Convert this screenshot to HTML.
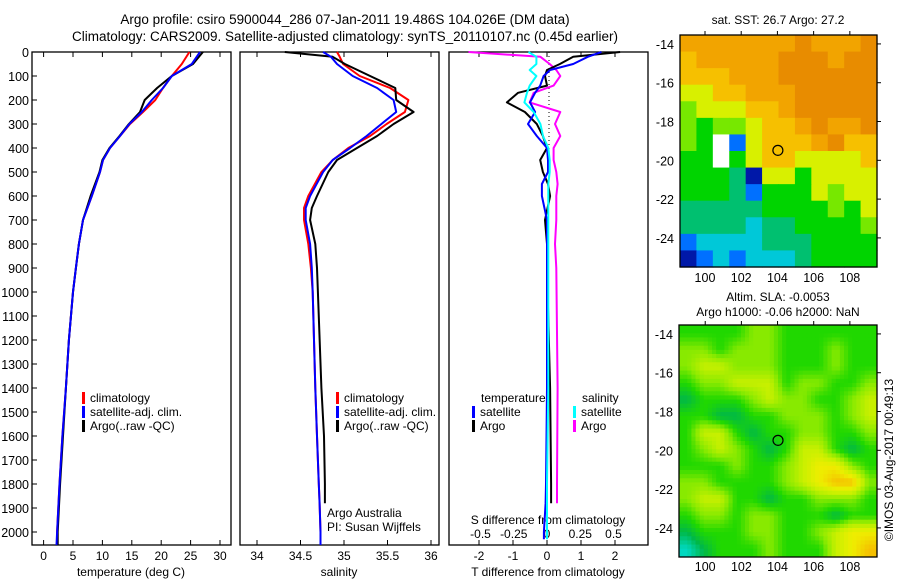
<!DOCTYPE html>
<html><head><meta charset="utf-8"><style>
html,body{margin:0;padding:0;background:#fff}
svg{display:block;font-family:"Liberation Sans",sans-serif}
</style></head><body>
<svg id="c" width="900" height="580" viewBox="0 0 900 580">
<text x="345" y="24" font-size="13.5" text-anchor="middle">Argo profile: csiro 5900044_286 07-Jan-2011 19.486S 104.026E (DM data)</text>
<text x="345" y="41" font-size="13.5" text-anchor="middle">Climatology: CARS2009. Satellite-adjusted climatology: synTS_20110107.nc (0.45d earlier)</text>
<text x="778" y="24" font-size="12" text-anchor="middle">sat. SST: 26.7 Argo: 27.2</text>
<text x="778" y="301" font-size="12" text-anchor="middle">Altim. SLA: -0.0053</text>
<text x="778" y="316" font-size="12" text-anchor="middle">Argo h1000: -0.06 h2000: NaN</text>
<text transform="translate(893,460) rotate(-90)" font-size="12" text-anchor="middle">©IMOS 03-Aug-2017 00:49:13</text>
<g id="g"></g>
</svg>
<script>
// ---- profile data ----
const depthT = [0,50,100,150,200,250,300,350,400,450,500,600,700,800,900,1000,1200,1400,1600,1800,2000,2054];
const tempClim = [24.8,23.5,21.8,20.3,19.0,16.9,14.7,13.0,11.3,10.1,9.6,8.2,6.7,6.0,5.5,5.0,4.3,3.8,3.2,2.7,2.3,2.3];
const tempSat  = [26.6,25.2,21.8,20.3,18.4,16.7,14.6,13.0,11.3,10.1,9.6,8.2,6.7,6.0,5.5,5.0,4.3,3.8,3.2,2.7,2.3,2.2];
const tempArgo = [27.1,25.4,21.8,19.3,17.2,16.4,14.5,12.9,11.2,10.0,9.5,8.0,6.7,6.0,5.5,5.0,4.3,3.8,3.3,2.8,2.4,2.4];
const depthS = [0,20,50,100,150,200,250,300,350,400,450,500,600,650,700,800,900,1000,1400,1600,1800,1880,2000,2054];
const salClim = [34.92,34.95,34.99,35.18,35.53,35.74,35.70,35.49,35.30,35.05,34.87,34.74,34.59,34.54,34.54,34.59,34.62,34.64,34.67,34.69,34.71,34.72,34.73,34.73];
const salSat  = [34.76,34.85,34.92,35.10,35.38,35.57,35.60,35.43,35.26,35.07,34.87,34.76,34.61,34.56,34.56,34.61,34.63,34.64,34.67,34.69,34.71,34.72,34.73,34.73];
const salArgo = [34.32,34.87,35.01,35.30,35.59,35.60,35.80,35.57,35.38,35.15,34.92,34.82,34.69,34.63,34.61,34.67,34.69,34.70,34.74,34.77,34.78,34.78,null,null];
const depthD = [0,20,50,75,100,140,170,210,250,300,350,400,450,500,550,600,700,800,900,1400,1800,1880,2000,2030];
const dTSat  = [1.6,1.2,0.77,0.09,-0.1,-0.2,-0.35,-0.5,-0.35,-0.56,-0.3,0,0.03,0.03,-0.15,-0.15,0,0,0,0,-0.03,-0.04,-0.09,-0.09];
const dTArgo = [2.15,0.77,0.38,0,-0.06,0,-0.85,-1.18,-0.65,-0.3,-0.12,0,-0.2,-0.12,0.03,0.09,-0.06,0,0,0.09,0.12,0.12,null,null];
const dSSat  = [-0.14,-0.08,-0.08,-0.13,-0.08,-0.13,-0.15,-0.17,-0.1,-0.05,-0.03,0.01,0.02,0.02,0.01,0.01,0.01,0.01,0.01,0.01,0,0,0,0];
const dSArgo = [-0.59,-0.05,0.02,0.07,0.1,0.05,-0.1,-0.13,0.1,0.06,0.1,0.05,0.05,0.07,0.08,0.07,0.07,0.06,0.07,0.08,0.075,0.075,null,null];
const depthTicks = [0,100,200,300,400,500,600,700,800,900,1000,1100,1200,1300,1400,1500,1600,1700,1800,1900,2000];
const tempTicks = [0,5,10,15,20,25,30];
const salTicks = [34,34.5,35,35.5,36];
const salTickLabels = ["34","34.5","35","35.5","36"];
const tDiffTicks = [-2,-1,0,1,2];
const sDiffTicks = [-0.5,-0.25,0,0.25,0.5];
const sDiffLabels = ["-0.5","-0.25","0","0.25","0.5"];
// ---- map data (cell codes, 12 per row) ----
const sstRows = [
"888888898889","788888999899","777888999999","667788899999","566677899999",
"545567789889","54-167778977","44-467766667","444306646666","444314446566",
"333334444546","333323344445","122223334444","012122234444"];
const slaRows = [
"222233222222","332333222322","344333222322","233444233223","122234332234",
"221122333234","244212233223","234321244212","222322345532","332222345663",
"344221223332","233233222122","122233223455","012223222456"];
const lonTicks = [100,102,104,106,108];
const latTicks = [-14,-16,-18,-20,-22,-24];
const argoLon = [104.026];
const argoLat = [-19.486];

const NS="http://www.w3.org/2000/svg";
const G=document.getElementById('g');
function mk(tag,attrs,parent){const e=document.createElementNS(NS,tag);for(const k in attrs)e.setAttribute(k,attrs[k]);(parent||G).appendChild(e);return e;}
const yD = d => 52 + d*0.24;
const xT = t => 43.6 + t*5.88;
const xS = s => 257 + (s-34)*87;
const xdT = t => 547 + t*34;
const xdS = s => 547 + s*133;

function frame(x0,x1,name){
  const r=mk('rect',{x:x0,y:52,width:x1-x0,height:493,fill:'none',stroke:'#000','stroke-width':1.3});
  
  
}
function line(xs,ds,color,fx,name,w){
  let pts=[];
  for(let i=0;i<ds.length;i++){ if(xs[i]===null)break; pts.push(fx(xs[i]).toFixed(1)+','+yD(ds[i]).toFixed(1)); }
  const p=mk('polyline',{points:pts.join(' '),fill:'none',stroke:color,'stroke-width':w||2,'stroke-linejoin':'round'});
  
  
}
function text(x,y,s,anchor,size,name){
  const t=mk('text',{x:x,y:y,'font-size':size||12,'text-anchor':anchor||'start'});
  t.textContent=s;
  
  
  return t;
}
function xticks(vals,labels,fx,ly,name){
  vals.forEach((v,i)=>{
    const x=fx(v);
    const a=mk('line',{x1:x,y1:52,x2:x,y2:57,stroke:'#000'});
    
    
    const b=mk('line',{x1:x,y1:545,x2:x,y2:540,stroke:'#000'});
    
    
    if(ly) text(x,ly,labels[i],'middle',12,name+'-label');
  });
}
function legend(x,y,color,label,name){
  const r=mk('rect',{x:x,y:y-10,width:3,height:12,fill:color});
  
  
  text(x+8,y,label,'start',12,name+'-label');
}

// panel 1
frame(32,231,'temperature-panel');
depthTicks.forEach(d=>{
  const l=mk('line',{x1:32,y1:yD(d),x2:37,y2:yD(d),stroke:'#000'});
  
  
  text(29,yD(d)+5,String(d),'end',12.5,'depth-tick-label');
});
xticks(tempTicks,tempTicks.map(String),xT,560,'temp-axis');
text(131,576,'temperature (deg C)','middle',12,'temp-axis-title');
line(tempClim,depthT,'#f00',xT,'temp-climatology-line');
line(tempArgo,depthT,'#000',xT,'temp-argo-line');
line(tempSat,depthT,'#00f',xT,'temp-satellite-line');
legend(82,402,'#f00','climatology','temp-legend-climatology');
legend(82,416,'#00f','satellite-adj. clim.','temp-legend-satellite');
legend(82,430,'#000','Argo(..raw -QC)','temp-legend-argo');

// panel 2
frame(240,439,'salinity-panel');
xticks(salTicks,salTickLabels,xS,560,'sal-axis');
text(339,576,'salinity','middle',12,'sal-axis-title');
line(salClim,depthS,'#f00',xS,'sal-climatology-line');
line(salArgo,depthS,'#000',xS,'sal-argo-line');
line(salSat,depthS,'#00f',xS,'sal-satellite-line');
legend(336,402,'#f00','climatology','sal-legend-climatology');
legend(336,416,'#00f','satellite-adj. clim.','sal-legend-satellite');
legend(336,430,'#000','Argo(..raw -QC)','sal-legend-argo');
text(327,517,'Argo Australia','start',12,'credit-argo-australia');
text(327,531,'PI: Susan Wijffels','start',12,'credit-pi');

// panel 3
frame(449,648,'difference-panel');
xticks(tDiffTicks,tDiffTicks.map(String),xdT,560,'tdiff-axis');
sDiffTicks.forEach((v,i)=>text(xdS(v),538,sDiffLabels[i],'middle',12,'sdiff-tick-label'));
text(548,524,'S difference from climatology','middle',12,'sdiff-axis-title');
text(548,576,'T difference from climatology','middle',12,'tdiff-axis-title');
const dz=mk('line',{x1:xdT(0)+2,y1:52,x2:xdT(0)+2,y2:150,stroke:'#000','stroke-dasharray':'1,3'});


line(dSArgo,depthD,'#f0f',xdS,'sdiff-argo-line');
line(dTArgo,depthD,'#000',xdT,'tdiff-argo-line');
line(dTSat,depthD,'#00f',xdT,'tdiff-satellite-line');
line(dSSat,depthD,'#0ff',xdS,'sdiff-satellite-line');
text(481,402,'temperature','start',12,'diff-legend-temperature-heading');
text(582,402,'salinity','start',12,'diff-legend-salinity-heading');
legend(472,416,'#00f','satellite','diff-legend-t-satellite');
legend(472,430,'#000','Argo','diff-legend-t-argo');
legend(573,416,'#0ff','satellite','diff-legend-s-satellite');
legend(573,430,'#f0f','Argo','diff-legend-s-argo');

// maps
const sstColors={'0':'#0018a8','1':'#0070ff','2':'#00c8d8','3':'#00c070','4':'#00d400','5':'#77e800','6':'#d8f000','7':'#f6c000','8':'#f2a400','9':'#e88c00','-':'#fff'};
const slaStops=[[0,216,192],[0,184,72],[32,216,0],[136,234,0],[200,240,0],[238,238,0],[245,192,0]];
function slaColor(v){
  v=Math.max(0,Math.min(6,v));const i=Math.min(5,Math.floor(v)),f=v-i;
  const a=slaStops[i],b=slaStops[i+1];
  return 'rgb('+a.map((c,k)=>Math.round(c+(b[k]-c)*f)).join(',')+')';
}
function frameAndTicks(name,x0,y0,x1,y1,lon0,lon1,lat0,lat1,labY){
  const fx=l=>x0+(l-lon0)/(lon1-lon0)*(x1-x0);
  const fy=l=>y0+(l-lat0)/(lat1-lat0)*(y1-y0);
  const fr=mk('rect',{x:x0,y:y0,width:x1-x0,height:y1-y0,fill:'none',stroke:'#000','stroke-width':1.3});
  
  
  lonTicks.forEach(l=>{
    const t=mk('line',{x1:fx(l),y1:y0,x2:fx(l),y2:y0-4,stroke:'#000'});
    
    
    text(fx(l),labY,String(l),'middle',12.5,name+'-lon-label');
  });
  latTicks.forEach(l=>{
    const t=mk('line',{x1:x1,y1:fy(l),x2:x1+4,y2:fy(l),stroke:'#000'});
    
    
    text(x0-6,fy(l)+5,String(l),'end',12.5,name+'-lat-label');
  });
  const c=mk('circle',{cx:fx(argoLon[0]),cy:fy(argoLat[0]),r:5,fill:'none',stroke:'#000','stroke-width':1.2});
  
  
}
function sstMap(x0,y0,x1,y1){
  const nr=sstRows.length,cw=(x1-x0)/12,ch=(y1-y0)/nr;
  const grp=mk('g',{});
  
  
  sstRows.forEach((row,r)=>{
    for(let k=0;k<12;k++){
      const rc=mk('rect',{x:(x0+k*cw).toFixed(2),y:(y0+r*ch).toFixed(2),width:(cw+0.6).toFixed(2),height:(ch+0.6).toFixed(2),fill:sstColors[row[k]]||'#fff'},grp);
      
      
    }
  });
}
function slaMap(x0,y0,x1,y1){
  const nr=slaRows.length,nc=12,sub=4;
  const grid=slaRows.map(r=>r.split('').map(Number));
  const val=(gy,gx)=>{ // gy,gx in cell-center coords
    gy=Math.max(0,Math.min(nr-1,gy));gx=Math.max(0,Math.min(nc-1,gx));
    const i=Math.min(nr-2,Math.floor(gy)),j=Math.min(nc-2,Math.floor(gx)),fy=gy-i,fx=gx-j;
    return grid[i][j]*(1-fy)*(1-fx)+grid[i+1][j]*fy*(1-fx)+grid[i][j+1]*(1-fy)*fx+grid[i+1][j+1]*fy*fx;
  };
  const grp=mk('g',{});
  
  
  const W=nc*sub,H=nr*sub,cw=(x1-x0)/W,ch=(y1-y0)/H;
  for(let r=0;r<H;r++)for(let k=0;k<W;k++){
    const v=val((r+0.5)/sub-0.5,(k+0.5)/sub-0.5);
    const rc=mk('rect',{x:(x0+k*cw).toFixed(2),y:(y0+r*ch).toFixed(2),width:(cw+0.5).toFixed(2),height:(ch+0.5).toFixed(2),fill:slaColor(v)},grp);
    
    
  }
}
sstMap(680,35,877,267);
frameAndTicks('sst-map',680,35,877,267,98.62,109.5,-13.54,-25.5,282);
slaMap(679,325,877,557);
frameAndTicks('sla-map',679,325,877,557,98.55,109.5,-13.54,-25.5,571);
</script>
</body></html>
